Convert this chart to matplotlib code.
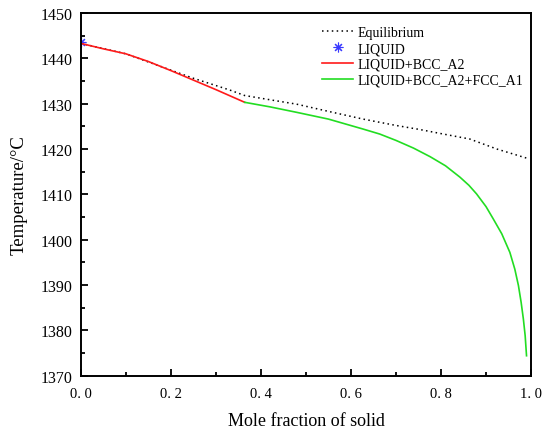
import numpy as np
import matplotlib
matplotlib.use('Agg')
import matplotlib.pyplot as plt
from matplotlib.ticker import MultipleLocator

# Scheil solidification vs equilibrium curve
eq_x = [0.0, 0.1, 0.2, 0.25, 0.3, 0.331, 0.364, 0.43, 0.479, 0.55, 0.627, 0.70, 0.753, 0.80, 0.864, 0.924, 0.99]
eq_T = [1443.3, 1441.0, 1437.4, 1435.6, 1434.0, 1433.0, 1431.8, 1430.7, 1429.9, 1428.3, 1426.6, 1425.2, 1424.3, 1423.4, 1422.2, 1420.0, 1418.0]

liquid_x = [0.0]
liquid_T = [1443.5]

bcc_x = [0.0, 0.05, 0.1, 0.15, 0.2, 0.25, 0.3, 0.364]
bcc_T = [1443.3, 1442.1, 1441.0, 1439.3, 1437.3, 1435.2, 1433.1, 1430.3]

fcc_x = [0.364, 0.42, 0.479, 0.55, 0.627, 0.664, 0.70, 0.739, 0.776, 0.81, 0.842, 0.862, 0.879,
         0.90, 0.916, 0.935, 0.953, 0.964, 0.972, 0.978, 0.983, 0.987, 0.990]
fcc_T = [1430.3, 1429.3, 1428.1, 1426.6, 1424.4, 1423.3, 1421.9, 1420.2, 1418.3, 1416.3, 1413.8, 1412.0, 1410.1,
         1407.3, 1404.6, 1401.3, 1397.2, 1393.5, 1389.9, 1386.2, 1382.5, 1378.8, 1374.4]

x_ticks = [0.0, 0.2, 0.4, 0.6, 0.8, 1.0]
x_labels = ['0. 0', '0. 2', '0. 4', '0. 6', '0. 8', '1. 0']
y_ticks = [1370, 1380, 1390, 1400, 1410, 1420, 1430, 1440, 1450]

plt.rcParams['font.family'] = ['Liberation Serif', 'DejaVu Serif']

fig = plt.figure(figsize=(5.5, 4.31), dpi=100)
ax = fig.add_axes([0.147, 0.126, 0.8185, 0.8415])

ax.plot(eq_x, eq_T, color='black', linestyle=(0, (1, 2.2)), linewidth=1.1, label='Equilibrium')
ax.plot(liquid_x, liquid_T, linestyle='none', marker=(8, 2, 0), markersize=7,
        color='#3a3aff', markeredgewidth=0.8, label='LIQUID')
ax.plot(bcc_x, bcc_T, color='#ff1a1a', linewidth=1.2, label='LIQUID+BCC_A2')
ax.plot(fcc_x, fcc_T, color='#22dd22', linewidth=1.2, label='LIQUID+BCC_A2+FCC_A1')

ax.set_xlim(0, 1.0)
ax.set_ylim(1370, 1450)
ax.set_xticks(x_ticks)
ax.set_xticklabels(x_labels)
ax.set_yticks(y_ticks)
ax.xaxis.set_minor_locator(MultipleLocator(0.1))
ax.yaxis.set_minor_locator(MultipleLocator(5))
ax.tick_params(which='both', direction='in', width=1.3, top=False, right=False)
ax.tick_params(which='major', length=5)
ax.tick_params(which='minor', length=3)
ax.tick_params(axis='x', labelsize=10.5, pad=8)
ax.tick_params(axis='y', labelsize=11.5, pad=6)
for s in ax.spines.values():
    s.set_linewidth(1.4)

ax.set_xlabel('Mole fraction of solid', fontsize=13, labelpad=9)
ax.set_ylabel('Temperature/°C', fontsize=13.5, labelpad=9)

ax.legend(loc='upper left', bbox_to_anchor=(0.515, 0.99), frameon=False, fontsize=10,
          handlelength=2.2, handletextpad=0.35, labelspacing=0.2, borderpad=0.2)

fig.savefig('out.png', dpi=100)
